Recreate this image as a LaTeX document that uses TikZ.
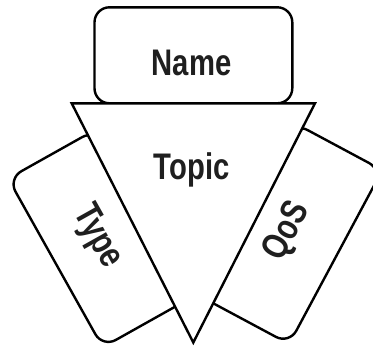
\documentclass[tikz,border=0pt]{standalone}
\usepackage{fontspec}
\setmainfont[FakeStretch=0.79]{Liberation Sans}
\begin{document}
\begin{tikzpicture}[x=1pt,y=-1pt,
  boxline/.style={draw=black, line width=2.4pt, fill=white, rounded corners=15pt},
  triline/.style={draw=black, line width=2.4pt, fill=white, line join=miter},
  lbl/.style={font=\fontsize{37}{40}\selectfont\bfseries, text=black!88, inner sep=0pt}]
\clip (0,0) rectangle (373,348);
% Name box
\draw[boxline] (94.5,7.3) rectangle (292.3,103.3);
% Type box
\draw[boxline] (8.2,178.6) -- (102.7,347.3) -- (189.9,298.4) -- (95.4,129.7) -- cycle;
% QoS box
\draw[boxline] (382.3,170.1) -- (289.2,344) -- (201.1,296.8) -- (294.2,122.9) -- cycle;
% Topic triangle
\draw[triline] (71.7,103.3) -- (315,103.3) -- (193.3,342.5) -- cycle;
% labels
\node[lbl] (name) at (191.7,63) {Name};
\node[lbl] (topic) at (191.7,170) {Topic};
\node[lbl, rotate=-60.7] (type) at (97,237) {Type};
\node[lbl, rotate=61.8] (qos) at (287.3,231.7) {QoS};
\end{tikzpicture}
\end{document}
